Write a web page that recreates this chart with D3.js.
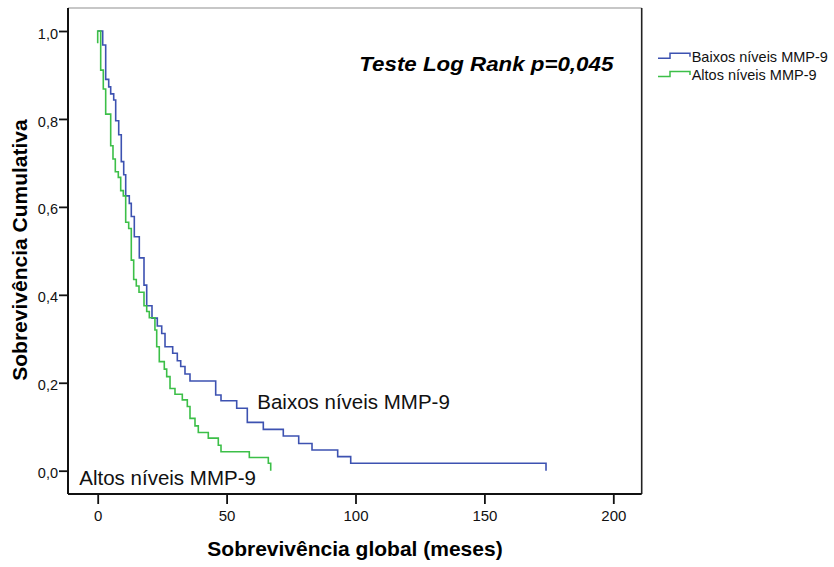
<!DOCTYPE html>
<html>
<head>
<meta charset="utf-8">
<script src="https://cdn.jsdelivr.net/npm/d3@7"></script>
<style>
  html, body { margin: 0; padding: 0; background: #fff; }
  svg { display: block; font-family: "Liberation Sans", Arial, sans-serif; }
</style>
</head>
<body>
<svg id="chart" width="834" height="567"></svg>
<script>
// Kaplan-Meier step points: [months, cumulative survival]
const baixosSteps = [
  [0, 1.000], [1.94, 0.968], [3.10, 0.890], [4.27, 0.873], [5.04, 0.857],
  [6.21, 0.843], [6.98, 0.796], [8.15, 0.764], [9.15, 0.703], [10.09, 0.673],
  [10.86, 0.625], [12.26, 0.608], [13.03, 0.578], [14.20, 0.532], [16.14, 0.484],
  [17.96, 0.422], [19.01, 0.375], [21.06, 0.347], [23.12, 0.329], [24.83, 0.312],
  [26.11, 0.282], [29.09, 0.267], [30.88, 0.250], [32.20, 0.237], [33.86, 0.220],
  [35.80, 0.204], [45.77, 0.172], [47.83, 0.159], [53.92, 0.142], [58.03, 0.110],
  [64.24, 0.094], [71.99, 0.079], [77.97, 0.062], [83.13, 0.047], [93.09, 0.032],
  [98.14, 0.017], [173.9, 0.000]
];
const altosSteps = [
  [0, 0.972], [0, 1.000], [1.16, 0.911], [2.17, 0.868], [3.10, 0.811],
  [5.04, 0.739], [5.93, 0.709], [6.83, 0.680], [7.99, 0.667], [8.92, 0.637],
  [9.93, 0.625], [10.86, 0.565], [12.02, 0.551], [13.03, 0.479], [13.96, 0.435],
  [14.97, 0.420], [16.02, 0.406], [17.96, 0.375], [19.01, 0.362], [20.02, 0.348],
  [22.20, 0.320], [22.89, 0.282], [23.89, 0.248], [25.83, 0.231], [26.76, 0.214],
  [28.05, 0.187], [29.98, 0.174], [32.82, 0.161], [34.76, 0.146], [35.80, 0.119],
  [37.74, 0.102], [39.02, 0.087], [42.90, 0.074], [46.78, 0.058], [47.83, 0.043],
  [58.81, 0.030], [66.18, 0.017], [67.11, 0.000]
];

const seriesNames = ["Baixos níveis MMP-9", "Altos níveis MMP-9"];
const seriesColors = ["#3d52b1", "#3cbf48"];
const xTicks = [0, 50, 100, 150, 200];
const yTicks = [0, 0.2, 0.4, 0.6, 0.8, 1.0];
const xTitle = "Sobrevivência global (meses)";
const yTitle = "Sobrevivência Cumulativa";
const testLabel = "Teste Log Rank p=0,045";

const svg = d3.select("#chart");

// plot frame
const frame = { left: 68, right: 641.7, top: 8, bottom: 494 };

const x = d3.scaleLinear().domain([0, 200]).range([97.7, 613.3]);
const y = d3.scaleLinear().domain([0, 1]).range([470.7, 31]);

// frame: top edge grey, others black
svg.append("line")
  .attr("x1", frame.left).attr("x2", frame.right)
  .attr("y1", frame.top).attr("y2", frame.top)
  .attr("stroke", "#b4b4b4").attr("stroke-width", 1.5);
svg.append("line")
  .attr("x1", frame.right).attr("x2", frame.right)
  .attr("y1", frame.top).attr("y2", frame.bottom)
  .attr("stroke", "#222").attr("stroke-width", 1.6);

// y axis
const yAxis = d3.axisLeft(y)
  .tickValues(yTicks)
  .tickSize(9)
  .tickPadding(1)
  .tickFormat(d => d3.format(".1f")(d).replace(".", ","));
const gy = svg.append("g")
  .attr("transform", `translate(${frame.left},0)`)
  .call(yAxis);
gy.select(".domain").remove();
gy.selectAll(".tick line").attr("stroke", "#111").attr("stroke-width", 1.8);
gy.selectAll(".tick text")
  .attr("font-size", 14.5)
  .attr("fill", "#111")
  .attr("dy", "0.8em")
  .attr("y", -4.5);
svg.append("line")
  .attr("x1", frame.left).attr("x2", frame.left)
  .attr("y1", frame.top).attr("y2", frame.bottom)
  .attr("stroke", "#111").attr("stroke-width", 2);

// x axis
const xAxis = d3.axisBottom(x)
  .tickValues(xTicks)
  .tickSize(10)
  .tickPadding(6)
  .tickFormat(d3.format("d"));
const gx = svg.append("g")
  .attr("transform", `translate(0,${frame.bottom})`)
  .call(xAxis);
gx.select(".domain").remove();
gx.selectAll(".tick line").attr("stroke", "#111").attr("stroke-width", 1.8);
gx.selectAll(".tick text")
  .attr("font-size", 15)
  .attr("fill", "#111");
svg.append("line")
  .attr("x1", frame.left).attr("x2", frame.right)
  .attr("y1", frame.bottom).attr("y2", frame.bottom)
  .attr("stroke", "#111").attr("stroke-width", 2);

// survival curves
const stepLine = d3.line()
  .x(d => x(d[0]))
  .y(d => y(d[1]))
  .curve(d3.curveStepAfter);

[baixosSteps, altosSteps].forEach((pts, i) => {
  svg.append("path")
    .datum(pts)
    .attr("d", stepLine)
    .attr("fill", "none")
    .attr("stroke", seriesColors[i])
    .attr("stroke-width", 1.6)
    .attr("stroke-linejoin", "miter");
});

// curve labels inside the plot
svg.append("text")
  .attr("x", 257.3).attr("y", 409.3)
  .attr("font-size", 20.5)
  .attr("fill", "#111")
  .text(seriesNames[0]);
svg.append("text")
  .attr("x", 79.3).attr("y", 485)
  .attr("font-size", 20.5)
  .attr("fill", "#111")
  .text(seriesNames[1]);

// log-rank annotation
svg.append("text")
  .attr("x", 359.3).attr("y", 70.7)
  .attr("font-size", 20.5)
  .attr("font-weight", "bold")
  .attr("font-style", "italic")
  .attr("fill", "#000")
  .attr("textLength", 254)
  .attr("lengthAdjust", "spacingAndGlyphs")
  .text(testLabel);

// axis titles
svg.append("text")
  .attr("x", 355).attr("y", 556)
  .attr("text-anchor", "middle")
  .attr("font-size", 21)
  .attr("font-weight", "bold")
  .attr("fill", "#000")
  .text(xTitle);
svg.append("text")
  .attr("transform", "translate(27,250) rotate(-90)")
  .attr("text-anchor", "middle")
  .attr("font-size", 21)
  .attr("font-weight", "bold")
  .attr("fill", "#000")
  .text(yTitle);

// legend with step-shaped symbols
const legend = svg.append("g").attr("transform", "translate(658,58.3)");
seriesNames.forEach((name, i) => {
  const g = legend.append("g").attr("transform", `translate(0,${i * 18.3})`);
  g.append("path")
    .attr("d", "M0,0H12V-5H32V-1.6")
    .attr("fill", "none")
    .attr("stroke", seriesColors[i])
    .attr("stroke-width", 1.5);
  g.append("text")
    .attr("x", 33.7).attr("y", 3.4)
    .attr("font-size", 14.5)
    .attr("fill", "#111")
    .text(name);
});
</script>
</body>
</html>
